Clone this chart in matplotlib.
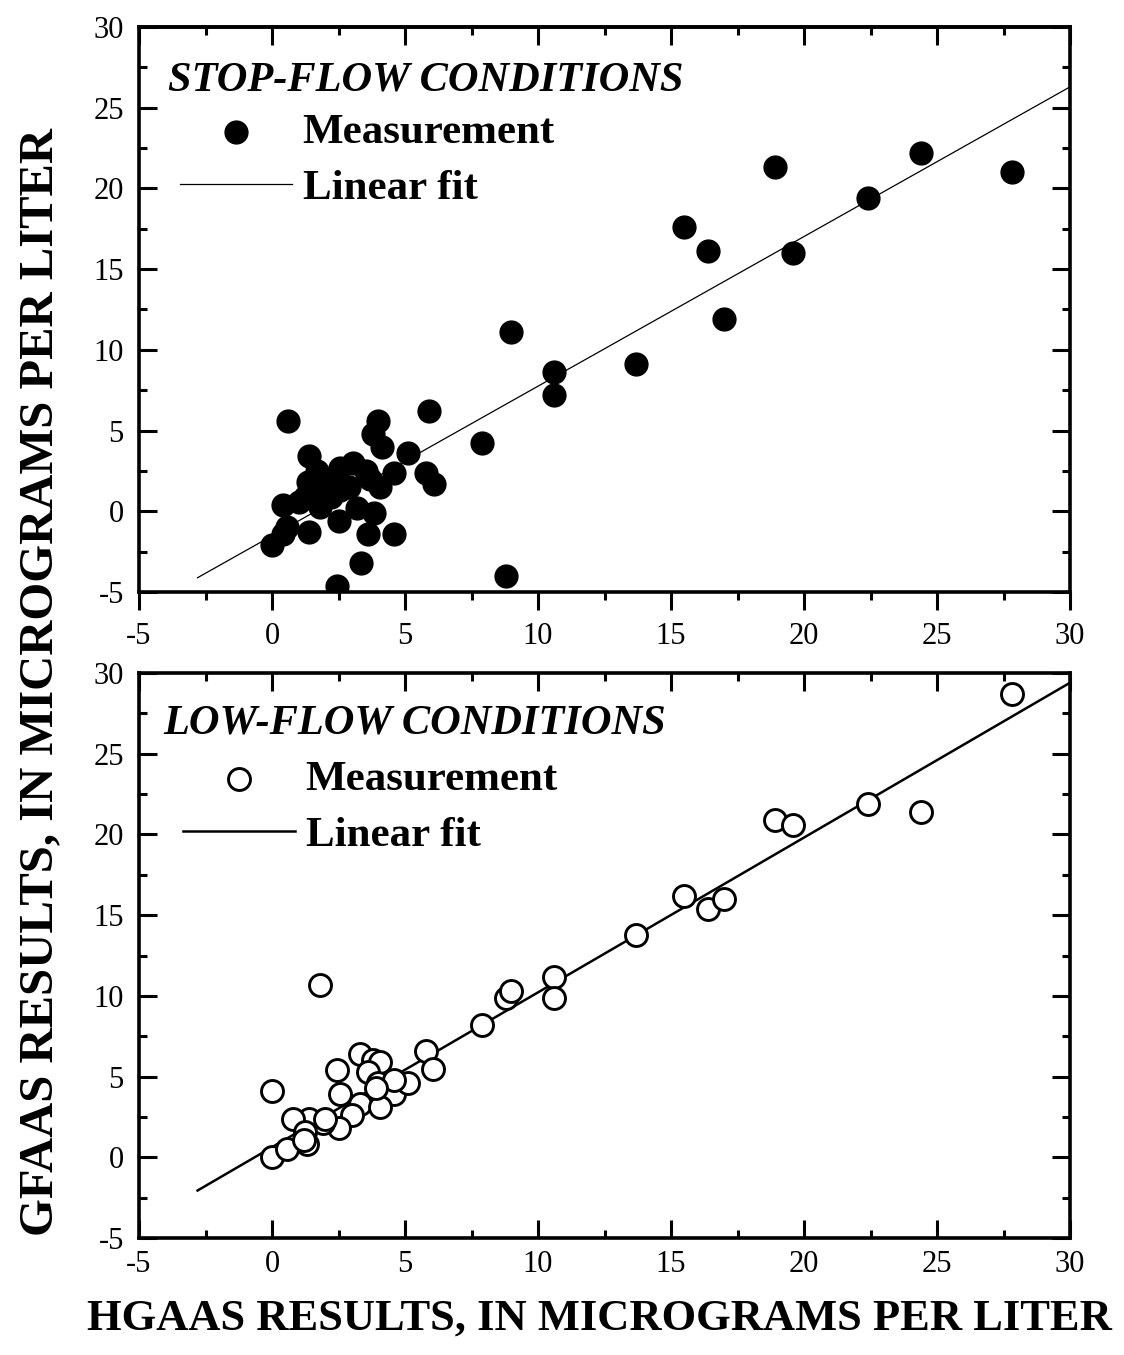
import numpy as np
import matplotlib
matplotlib.use("Agg")
from matplotlib import pyplot as plt
from matplotlib.ticker import MultipleLocator, NullFormatter

# stop-flow conditions (HGAAS, GFAAS), micrograms per liter
stop_x = [0.0, 0.4, 0.6, 0.4, 0.55, 1.4, 1.4, 1.35, 1.25, 1.7, 2.55, 3.05, 2.5, 2.45,
          3.35, 3.2, 3.6, 3.85, 4.6, 4.0, 3.8, 4.15, 5.1, 5.9, 5.8, 6.1, 4.6, 4.05,
          3.55, 2.9, 2.55, 2.05, 1.8, 2.2, 1.0, 3.7, 2.0,
          7.9, 8.8, 9.0, 10.6, 10.6, 13.7, 15.5, 16.4, 17.0, 18.9, 19.6, 22.4, 24.4, 27.8]
stop_y = [-2.1, 0.4, 5.6, -1.4, -1.0, 3.4, -1.3, 1.8, 0.9, 2.5, 2.7, 3.0, -0.6, -4.6,
          -3.2, 0.2, -1.4, -0.1, -1.4, 5.6, 4.8, 4.0, 3.6, 6.2, 2.4, 1.7, 2.4, 1.5,
          2.5, 1.5, 1.3, 1.9, 0.25, 0.9, 0.6, 2.0, 1.2,
          4.2, -4.0, 11.1, 8.6, 7.2, 9.1, 17.6, 16.1, 11.9, 21.3, 16.0, 19.4, 22.2, 21.0]

# low-flow conditions
low_x = [0.0, 0.0, 1.8, 2.45, 3.3, 3.8, 4.05, 3.6, 2.55, 4.0, 4.6, 5.1, 5.8, 6.05,
         3.3, 4.05, 3.0, 2.5, 1.9, 1.4, 0.8, 1.25, 1.3, 0.55, 2.0, 4.6, 1.2, 3.9,
         7.9, 8.8, 9.0, 10.6, 10.6, 13.7, 15.5, 16.4, 17.0, 18.9, 19.6, 22.4, 24.4, 27.8]
low_y = [0.0, 4.1, 10.7, 5.4, 6.4, 6.0, 5.9, 5.3, 3.9, 4.6, 3.9, 4.6, 6.6, 5.5,
         3.3, 3.1, 2.6, 1.8, 2.1, 2.4, 2.4, 1.6, 0.8, 0.5, 2.4, 4.8, 1.1, 4.3,
         8.2, 9.9, 10.3, 11.2, 9.9, 13.8, 16.2, 15.4, 16.0, 20.9, 20.6, 21.9, 21.4, 28.7]

# linear fits (slope, intercept)
stop_fit = (0.927, -1.52)
low_fit = (0.959, 0.63)
fit_range = [-2.8, 30]

SERIF = ["Liberation Serif", "DejaVu Serif"]
plt.rcParams["font.family"] = SERIF
plt.rcParams["axes.unicode_minus"] = False

fig = plt.figure(figsize=(11.24, 13.55), dpi=100)
ax1 = fig.add_axes([0.1237, 0.5631, 0.8283, 0.417])
ax2 = fig.add_axes([0.1237, 0.0863, 0.8283, 0.417])


def set_ticks(axis):
    axis.set_major_locator(MultipleLocator(5))
    axis.set_minor_locator(MultipleLocator(2.5))


def style(ax, xdir="in", top=True):
    ax.set_xlim(-5, 30)
    ax.set_ylim(-5, 30)
    set_ticks(ax.xaxis)
    set_ticks(ax.yaxis)
    ax.tick_params(which="both", width=2.2)
    ax.tick_params(axis="y", which="both", direction="in", left=True, right=True)
    ax.tick_params(axis="x", which="both", direction=xdir, bottom=True, top=top)
    ax.tick_params(which="major", length=13, labelsize=22)
    ax.tick_params(axis="y", which="major", pad=11)
    ax.tick_params(axis="x", which="major", pad=8.5)
    ax.tick_params(which="minor", length=6)
    for s in ax.spines.values():
        s.set_linewidth(2.6)


fx = np.array(fit_range)

# top panel: bottom ticks point outwards, top ticks inwards
style(ax1, xdir="out", top=False)
sec = ax1.secondary_xaxis("top")
set_ticks(sec.xaxis)
sec.xaxis.set_major_formatter(NullFormatter())
sec.tick_params(which="both", direction="in", width=2.2)
sec.tick_params(which="major", length=13)
sec.tick_params(which="minor", length=6)
sec.spines["top"].set_linewidth(2.6)

ax1.scatter(stop_x, stop_y, s=270, color="black", zorder=3, label="Measurement")
ax1.plot(fx, stop_fit[0] * fx + stop_fit[1], color="black", lw=0.9, label="Linear fit")

style(ax2)
ax2.scatter(low_x, low_y, s=250, facecolor="white", edgecolor="black", linewidth=2.1,
            zorder=3, label="Measurement")
ax2.plot(fx, low_fit[0] * fx + low_fit[1], color="black", lw=1.8, label="Linear fit")

panels = [(ax1, "STOP-FLOW CONDITIONS", 0.031, 0.906, 0.044, 0.764),
          (ax2, "LOW-FLOW CONDITIONS", 0.026, 0.911, 0.047, 0.762)]
for ax, title, tx, ty, lx, ly in panels:
    ax.text(tx, ty, title, transform=ax.transAxes, ha="left", va="center",
            fontsize=30.5, style="italic", fontweight="bold")
    ax.legend(loc="center left", bbox_to_anchor=(lx, ly), frameon=False,
              scatterpoints=1, handlelength=2.6, handletextpad=0.25,
              labelspacing=0.38, borderpad=0, borderaxespad=0,
              prop={"family": SERIF, "weight": "bold", "size": 31})

fig.text(0.036, 0.497, "GFAAS RESULTS, IN MICROGRAMS PER LITER", rotation=90,
         ha="center", va="center", fontsize=35, fontweight="bold")
fig.text(0.533, 0.027, "HGAAS RESULTS, IN MICROGRAMS PER LITER",
         ha="center", va="center", fontsize=32, fontweight="bold")

fig.savefig("out.png", dpi=100)
